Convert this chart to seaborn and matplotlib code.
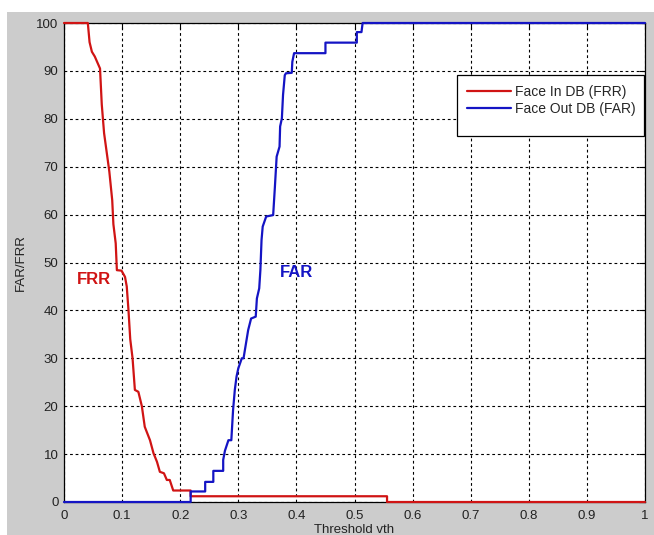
import matplotlib
matplotlib.use("Agg")
import matplotlib.pyplot as plt
from matplotlib.patches import Rectangle
import seaborn as sns
import pandas as pd

# False rejection rate for faces that are enrolled in the database
frr_x = [0.0, 0.041, 0.044, 0.048, 0.053, 0.062, 0.065, 0.069, 0.078, 0.083,
         0.085, 0.089, 0.091, 0.099, 0.105, 0.108, 0.111, 0.114, 0.118, 0.122,
         0.128, 0.134, 0.139, 0.148, 0.154, 0.160, 0.165, 0.172, 0.177, 0.182,
         0.188, 0.191, 0.218, 0.218, 0.556, 0.556, 1.0]
frr_y = [100, 100, 96, 94, 93, 90.5, 83, 77, 69, 63,
         58, 54, 48.4, 48.3, 47, 45, 40, 34, 30, 23.4,
         23, 20, 15.7, 12.9, 10.2, 8.4, 6.3, 6.0, 4.6, 4.6,
         2.4, 2.4, 2.4, 1.2, 1.2, 0, 0]

# False acceptance rate for faces that are not in the database
far_x = [0.0, 0.218, 0.218, 0.243, 0.243, 0.257, 0.257, 0.274, 0.274, 0.277,
         0.283, 0.288, 0.291, 0.294, 0.297, 0.300, 0.306, 0.309, 0.317, 0.322,
         0.330, 0.332, 0.336, 0.338, 0.340, 0.342, 0.348, 0.360, 0.363, 0.366,
         0.371, 0.372, 0.375, 0.377, 0.380, 0.382, 0.392, 0.393, 0.396, 0.450,
         0.450, 0.504, 0.504, 0.512, 0.514, 1.0]
far_y = [0, 0, 2.2, 2.2, 4.2, 4.2, 6.5, 6.5, 8.8, 10.7,
         12.9, 12.9, 19.2, 23.4, 26.2, 27.9, 30, 30, 35.9, 38.3,
         38.7, 42.5, 44.6, 48.4, 54.7, 57.5, 59.6, 59.9, 65.8, 72.1,
         74.2, 78.4, 80.1, 85, 89.1, 89.5, 89.6, 91.9, 93.7, 93.7,
         95.9, 95.9, 98.1, 98.1, 100, 100]

x_ticks = [0, 0.1, 0.2, 0.3, 0.4, 0.5, 0.6, 0.7, 0.8, 0.9, 1]
x_tick_labels = ["0", "0.1", "0.2", "0.3", "0.4", "0.5", "0.6", "0.7", "0.8", "0.9", "1"]
y_ticks = [0, 10, 20, 30, 40, 50, 60, 70, 80, 90, 100]

label_frr = "Face In DB (FRR)"
label_far = "Face Out DB (FAR)"

sns.set_style("white")
plt.rcParams["font.family"] = ["Liberation Sans", "DejaVu Sans"]

RED = "#d01414"
BLUE = "#1414c4"

fig = plt.figure(figsize=(6.54, 5.35), dpi=100, facecolor="white")
fig.add_artist(Rectangle((7 / 654, 0), 1, (535 - 12) / 535,
                         transform=fig.transFigure, facecolor="#cccccc",
                         edgecolor="none", zorder=-10))
ax = fig.add_axes([64 / 654, 33 / 535, 581 / 654, 479 / 535])
ax.set_facecolor("white")

frr_df = pd.DataFrame({"x": frr_x, "y": frr_y})
far_df = pd.DataFrame({"x": far_x, "y": far_y})

sns.lineplot(data=frr_df, x="x", y="y", sort=False, estimator=None, ax=ax,
             color=RED, linewidth=1.6, label=label_frr, clip_on=False, zorder=3)
sns.lineplot(data=far_df, x="x", y="y", sort=False, estimator=None, ax=ax,
             color=BLUE, linewidth=1.6, label=label_far, clip_on=False, zorder=4)

ax.set_xlim(0, 1)
ax.set_ylim(0, 100)
ax.set_xticks(x_ticks)
ax.set_xticklabels(x_tick_labels)
ax.set_yticks(y_ticks)

ax.grid(True, color="black", linestyle=(0, (2.5, 2.5)), linewidth=0.8)
ax.set_axisbelow(True)
for s in ax.spines.values():
    s.set_visible(True)
    s.set_color("black")
    s.set_linewidth(0.9)

ax.tick_params(axis="both", direction="in", length=4, width=0.8, color="black",
               labelsize=9.5, labelcolor="#222222", top=True, right=True)
ax.tick_params(axis="x", pad=6)
ax.tick_params(axis="y", pad=4)

ax.set_xlabel("Threshold vth", fontsize=9.5, color="#222222", labelpad=1)
ax.set_ylabel("FAR/FRR", fontsize=9.5, color="#222222", labelpad=7)

ax.text(0.052, 46.5, "FRR", color=RED, fontsize=12, fontweight="bold",
        ha="center", va="center")
ax.text(0.40, 48.0, "FAR", color=BLUE, fontsize=12, fontweight="bold",
        ha="center", va="center")

# Legend box (taller than its two entries) drawn as a separate frame
ax.add_patch(Rectangle((0.676, 0.764), 0.322, 0.127, transform=ax.transAxes,
                       facecolor="white", edgecolor="black", linewidth=0.9,
                       zorder=5, clip_on=False))
leg = ax.legend(loc="upper left", bbox_to_anchor=(0.6936, 0.8706), fontsize=10,
                frameon=False, borderpad=0, handlelength=3.15,
                handletextpad=0.3, labelspacing=0.2, borderaxespad=0)
leg.set_zorder(6)

fig.savefig("out.png", dpi=100, facecolor=fig.get_facecolor())
